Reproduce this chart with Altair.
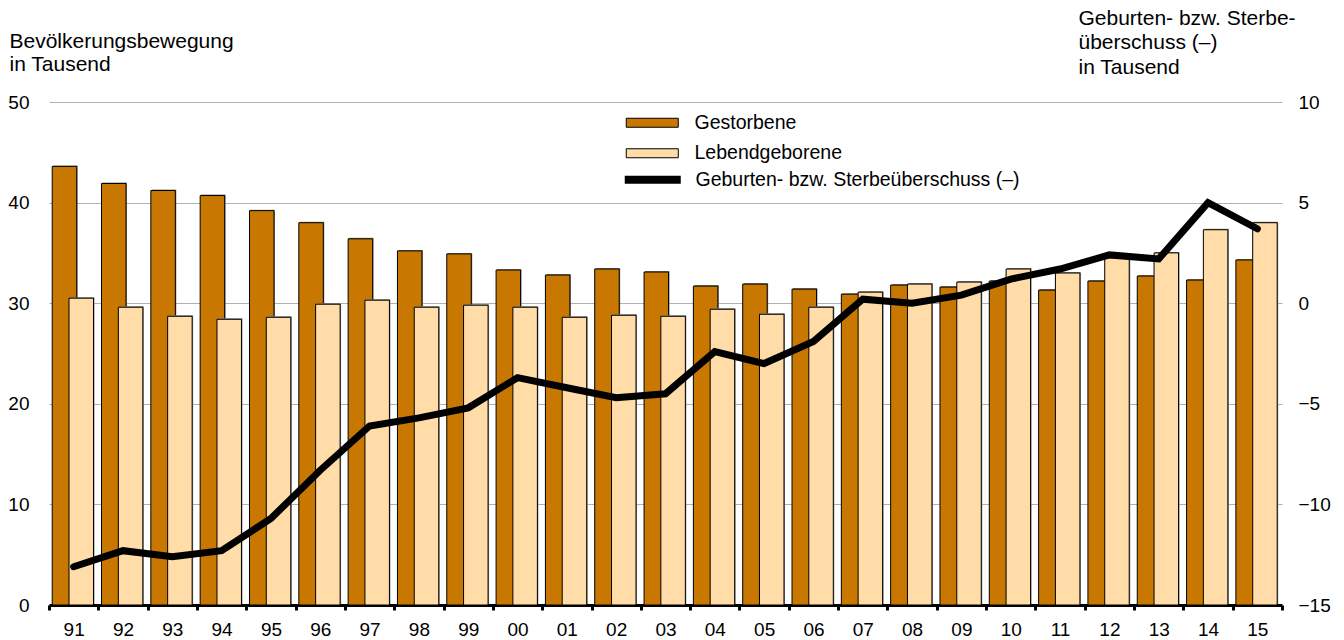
import altair as alt
import pandas as pd

years = ["91", "92", "93", "94", "95", "96", "97", "98", "99", "00", "01", "02", "03",
         "04", "05", "06", "07", "08", "09", "10", "11", "12", "13", "14", "15"]
gestorbene = [43.6, 41.9, 41.2, 40.7, 39.2, 38.0, 36.4, 35.2, 34.9, 33.3, 32.8, 33.4, 33.1,
              31.7, 31.9, 31.4, 30.9, 31.8, 31.6, 32.2, 31.3, 32.2, 32.7, 32.3, 34.3]
lebendgeborene = [30.5, 29.6, 28.7, 28.4, 28.6, 29.9, 30.3, 29.6, 29.8, 29.6, 28.6, 28.8, 28.7,
                  29.4, 28.9, 29.6, 31.1, 31.9, 32.1, 33.4, 33.0, 34.7, 35.0, 37.3, 38.0]
saldo = [-13.1, -12.3, -12.6, -12.3, -10.7, -8.3, -6.1, -5.7, -5.2, -3.7, -4.2, -4.7, -4.5,
         -2.4, -3.0, -1.9, 0.2, 0.0, 0.4, 1.2, 1.7, 2.4, 2.2, 5.0, 3.7]

S_G = "Gestorbene"
S_L = "Lebendgeborene"
S_S = "Geburten- bzw. Sterbeüberschuss (–)"

FONT = "Liberation Sans"
LBL = 19
LEG = 19.5
TTL = 21

bars = pd.DataFrame({
    "jahr": years * 2,
    "wert": gestorbene + lebendgeborene,
    "serie": [S_G] * len(years) + [S_L] * len(years),
})
line_df = pd.DataFrame({"jahr": years, "wert": saldo, "serie": [S_S] * len(years)})

x_enc = alt.X(
    "jahr:N", sort=years, title=None,
    scale=alt.Scale(paddingInner=0, paddingOuter=0),
    axis=alt.Axis(labelAngle=0, labelFont=FONT, labelFontSize=LBL, labelColor="black",
                  labelPadding=10, tickBand="extent", ticks=True, tickSize=5, tickWidth=3,
                  tickColor="black", domainColor="black", domainWidth=3, grid=False),
)

fill_enc = alt.Fill(
    "serie:N",
    scale=alt.Scale(domain=[S_G, S_L], range=["#C87800", "#FFDCA8"]),
    legend=alt.Legend(title=None, orient="none", legendX=572, legendY=11,
                      symbolType="M-1,-1L10.56,-1L10.56,1L-1,1Z", symbolSize=81,
                      symbolStrokeColor="black", symbolStrokeWidth=1, symbolOpacity=1,
                      labelFont=FONT, labelFontSize=LEG, labelColor="black", labelLimit=500,
                      labelOffset=54, rowPadding=9.5, padding=0),
)

y_left = alt.Y(
    "wert:Q", title=["Bevölkerungsbewegung", "in Tausend"],
    scale=alt.Scale(domain=[0, 50], nice=False),
    axis=alt.Axis(values=[0, 10, 20, 30, 40, 50], domain=False, ticks=False,
                  labelFont=FONT, labelFontSize=LBL, labelColor="black", labelPadding=20,
                  grid=True, gridColor="#b0b0b0", gridWidth=1.2,
                  titleFont=FONT, titleFontSize=TTL, titleFontWeight="normal", titleColor="black",
                  titleAngle=0, titleAlign="left", titleBaseline="alphabetic",
                  titleX=-40, titleY=-55, titleLineHeight=23),
)

# subtle grey shadow behind the bars, as in the reference
shadow_g = alt.Chart(bars).transform_filter(alt.datum.serie == S_G).mark_bar(
    width=24.5, xOffset=-8.2, yOffset=-1, color="#8a8a8a"
).encode(x=x_enc, y=y_left)

shadow_l = alt.Chart(bars).transform_filter(alt.datum.serie == S_L).mark_bar(
    width=24.5, xOffset=8.6, yOffset=-1, color="#8a8a8a"
).encode(x=x_enc, y=y_left)

bar_g = alt.Chart(bars).transform_filter(alt.datum.serie == S_G).mark_bar(
    width=24.5, xOffset=-9.2, stroke="black", strokeWidth=1
).encode(x=x_enc, y=y_left, fill=fill_enc)

bar_l = alt.Chart(bars).transform_filter(alt.datum.serie == S_L).mark_bar(
    width=24.5, xOffset=7.6, stroke="black", strokeWidth=1
).encode(x=x_enc, y=y_left, fill=fill_enc)

line = alt.Chart(line_df).mark_line(strokeWidth=7, strokeCap="round", strokeJoin="miter").encode(
    x=x_enc,
    y=alt.Y("wert:Q", title=["Geburten- bzw. Sterbe-", "überschuss (–)", "in Tausend"],
            scale=alt.Scale(domain=[-15, 10], nice=False),
            axis=alt.Axis(orient="right", values=[-15, -10, -5, 0, 5, 10], domain=False,
                          ticks=False, grid=False, labelFont=FONT, labelFontSize=LBL,
                          labelColor="black", labelPadding=16,
                          titleFont=FONT, titleFontSize=TTL, titleFontWeight="normal",
                          titleColor="black", titleAngle=0, titleAlign="left",
                          titleBaseline="alphabetic", titleX=-204, titleY=-78,
                          titleLineHeight=24.5)),
    stroke=alt.Stroke("serie:N", scale=alt.Scale(domain=[S_S], range=["black"]),
                      legend=alt.Legend(title=None, orient="none", legendX=568, legendY=68,
                                        symbolType="M-1,0L27,0", symbolSize=16,
                                        symbolStrokeWidth=8, symbolStrokeColor="black",
                                        labelFont=FONT, labelFontSize=LEG, labelColor="black",
                                        labelLimit=500, labelOffset=59, padding=0)),
)

chart = alt.layer(
    alt.layer(shadow_g, bar_g, shadow_l, bar_l), line
).resolve_scale(
    y="independent", fill="independent", stroke="independent"
).properties(
    width=1233, height=503,
    autosize=alt.AutoSizeParams(type="none"),
    padding={"left": 41, "top": 94, "right": 52, "bottom": 35},
    background="white"
).configure_view(stroke="transparent", strokeWidth=0)

chart.save("out.html", embed_options={"renderer": "svg", "actions": False})
